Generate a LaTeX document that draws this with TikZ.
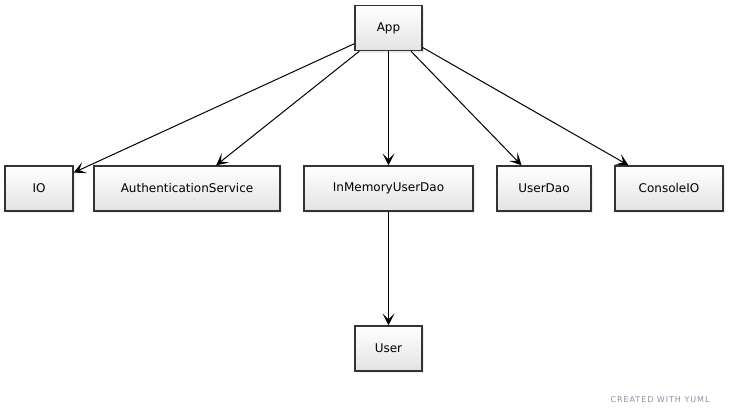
\documentclass[tikz,border=0pt]{standalone}
\usepackage{fontspec}
\setmainfont{DejaVu Sans}
\newfontfamily\markfont[LetterSpace=12]{DejaVu Sans}
\usepackage{xcolor}
\usetikzlibrary{arrows.meta, positioning, calc, shadows}
\definecolor{boxline}{HTML}{333333}
\definecolor{markgray}{HTML}{8793A4}

\begin{document}
\begin{tikzpicture}[x=1pt, y=-1pt,
    every node/.style={font=\fontsize{12}{14}\selectfont},
    cls/.style={rectangle, draw=boxline, line width=1.4pt, top color=white, bottom color=black!11,
        minimum height=45pt, inner sep=0pt, minimum width=#1,
        drop shadow={shadow xshift=2pt, shadow yshift=-2pt, opacity=0.15}},
    dep/.style={-{Stealth[length=12pt, width=12pt, inset=6pt]}, line width=1pt}]
    \useasboundingbox (0,0) rectangle (729,415);
    \node[cls=67pt] (app) at (388.5,28) {App};
    \node[cls=68pt] (io) at (39,188.5) {IO};
    \node[cls=186pt] (auth) at (187,188.5) {AuthenticationService};
    \node[cls=169pt] (memdao) at (388.5,188.5) {InMemoryUserDao};
    \node[cls=94pt] (userdao) at (544,188.5) {UserDao};
    \node[cls=108pt] (console) at (669,188.5) {ConsoleIO};
    \node[cls=67pt] (user) at (388.5,348.5) {User};
    \foreach \t in {io, auth, memdao, userdao, console}
        \draw[dep] (app) -- (\t);
    \draw[dep] (memdao) -- (user);
    \node[text=markgray, font=\markfont\fontsize{8}{10}\selectfont] (mark) at (660,400) {CREATED WITH YUML};
\end{tikzpicture}
\end{document}
